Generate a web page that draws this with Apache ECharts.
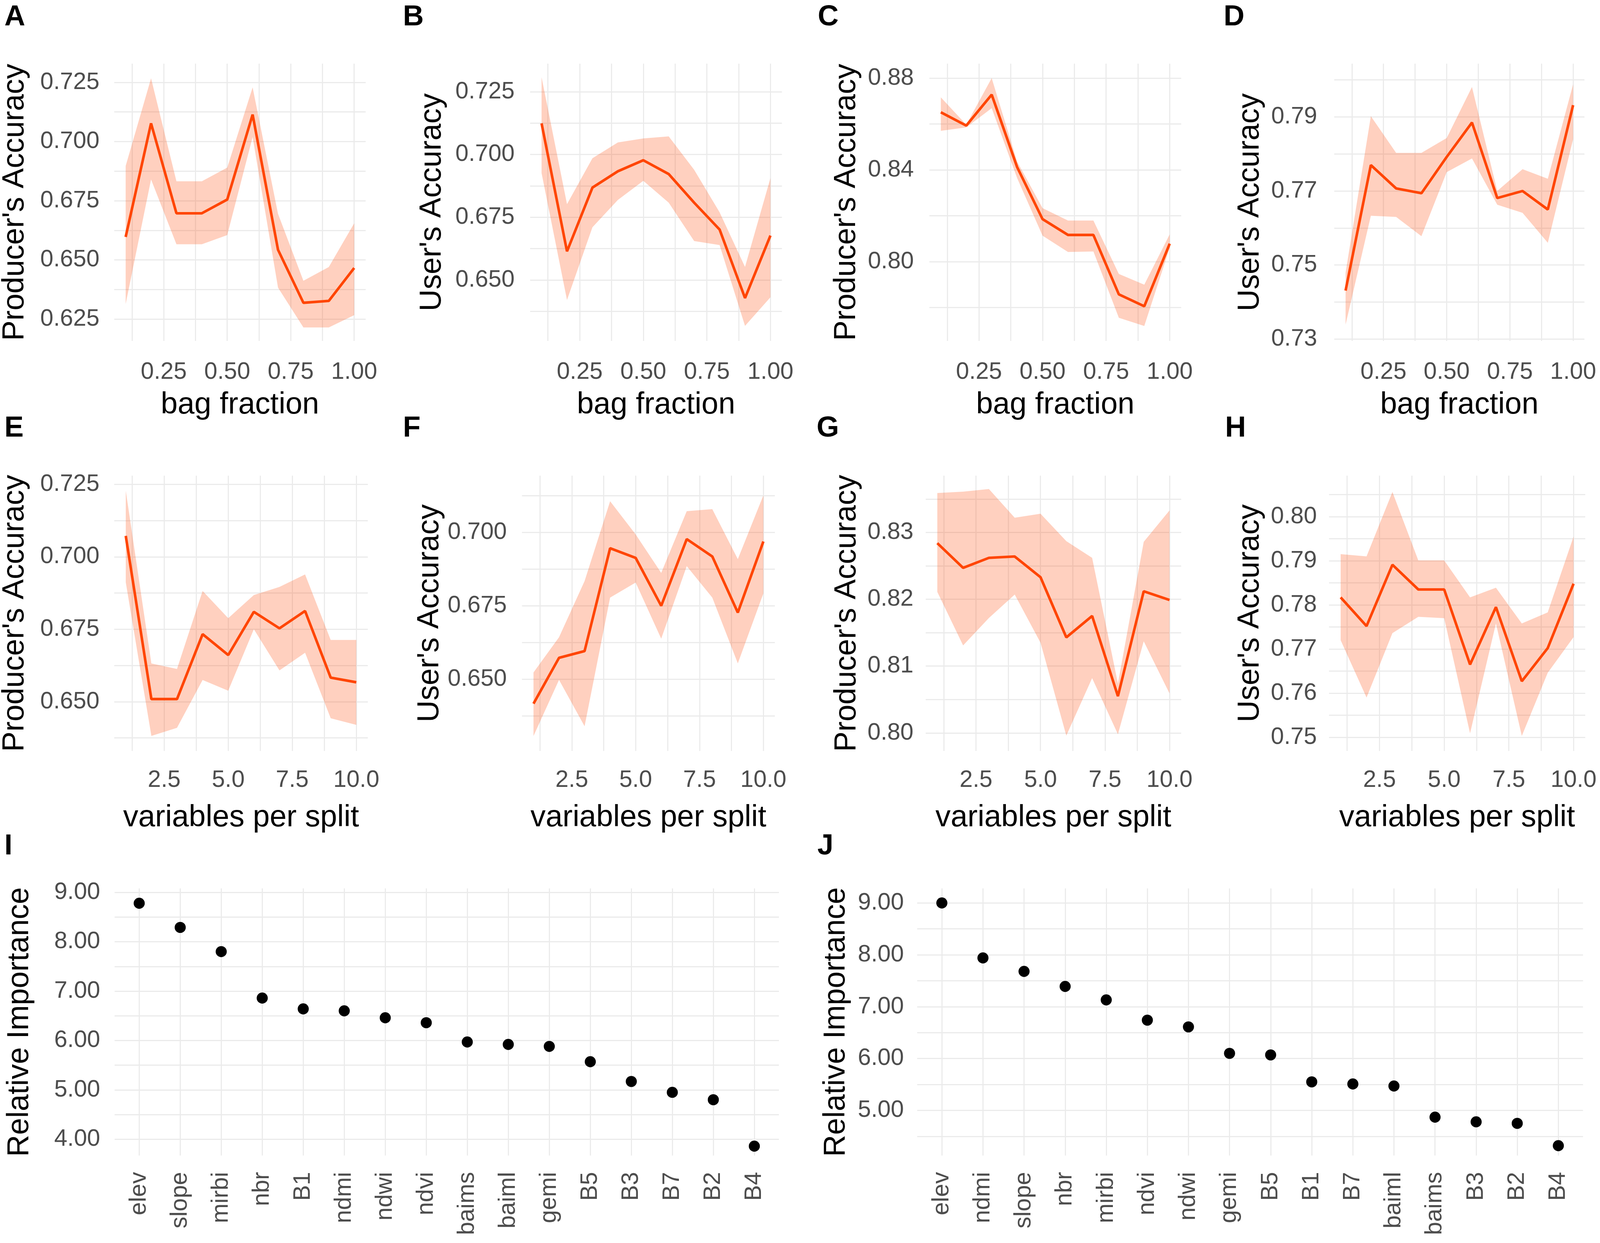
<!DOCTYPE html>
<html><head><meta charset="utf-8">
<script src="https://cdn.jsdelivr.net/npm/echarts@6/dist/echarts.min.js"></script>
<style>html,body{margin:0;padding:0;background:#fff;overflow:hidden}#c{width:100vw;height:100vh}</style>
</head><body><div id="c"></div>
<script>
// ---------------- data ----------------
const bagFraction = [0.1,0.2,0.3,0.4,0.5,0.6,0.7,0.8,0.9,1.0];
const varsPerSplit = [1,2,3,4,5,6,7,8,9,10];

const bagTicks = [0.125,0.25,0.375,0.5,0.625,0.75,0.875,1.0];
const bagLabels = [0.25,0.5,0.75,1.0];
const splitTicks = [1.25,2.5,3.75,5,6.25,7.5,8.75,10];
const splitLabels = [2.5,5,7.5,10];

const A_mean = [0.6597,0.7077,0.6697,0.6697,0.6755,0.7114,0.6543,0.6319,0.6327,0.6466];
const A_lo   = [0.6314,0.6840,0.6566,0.6566,0.6605,0.7019,0.6383,0.6215,0.6215,0.6267];
const A_hi   = [0.6897,0.7267,0.6832,0.6832,0.6890,0.7229,0.6695,0.6412,0.6470,0.6655];
const A_yTicks = [0.625,0.6375,0.65,0.6625,0.675,0.6875,0.7,0.7125,0.725];
const A_yLabels = [0.625,0.65,0.675,0.7,0.725];

const B_mean = [0.7124,0.6614,0.6868,0.6933,0.6977,0.6922,0.6808,0.6701,0.6428,0.6677];
const B_lo   = [0.6926,0.6420,0.6710,0.6819,0.6895,0.6808,0.6655,0.6639,0.6317,0.6431];
const B_hi   = [0.7308,0.6802,0.6985,0.7048,0.7064,0.7072,0.6939,0.6770,0.6552,0.6906];
const B_yTicks = [0.6375,0.65,0.6625,0.675,0.6875,0.7,0.7125,0.725];
const B_yLabels = [0.65,0.675,0.7,0.725];

const C_mean = [0.8651,0.8593,0.8728,0.8412,0.8185,0.8116,0.8116,0.7857,0.7805,0.8078];
const C_lo   = [0.8570,0.8585,0.8669,0.8364,0.8113,0.8042,0.8044,0.7755,0.7719,0.8060];
const C_hi   = [0.8716,0.8597,0.8800,0.8436,0.8233,0.8179,0.8179,0.7946,0.7899,0.8119];
const C_yTicks = [0.78,0.8,0.82,0.84,0.86,0.88];
const C_yLabels = [0.8,0.84,0.88];

const D_mean = [0.7431,0.7770,0.7707,0.7694,0.7792,0.7885,0.7681,0.7700,0.7650,0.7932];
const D_lo   = [0.7339,0.7633,0.7630,0.7578,0.7751,0.7788,0.7663,0.7641,0.7560,0.7840];
const D_hi   = [0.7479,0.7902,0.7803,0.7803,0.7843,0.7981,0.7700,0.7759,0.7733,0.7988];
const D_yTicks = [0.73,0.74,0.75,0.76,0.77,0.78,0.79,0.8];
const D_yLabels = [0.73,0.75,0.77,0.79];

const E_mean = [0.7072,0.6509,0.6509,0.6733,0.6661,0.6810,0.6753,0.6813,0.6583,0.6567];
const E_lo   = [0.6912,0.6382,0.6410,0.6575,0.6538,0.6750,0.6608,0.6669,0.6443,0.6420];
const E_hi   = [0.7228,0.6632,0.6613,0.6882,0.6788,0.6868,0.6896,0.6939,0.6713,0.6713];
const E_yTicks = [0.6375,0.65,0.6625,0.675,0.6875,0.7,0.7125,0.725];
const E_yLabels = [0.65,0.675,0.7,0.725];

const F_mean = [0.6417,0.6573,0.6596,0.6946,0.6913,0.6750,0.6977,0.6918,0.6727,0.6969];
const F_lo   = [0.6307,0.6498,0.6340,0.6778,0.6829,0.6638,0.6885,0.6778,0.6554,0.6792];
const F_hi   = [0.6523,0.6643,0.6834,0.7106,0.6993,0.6862,0.7072,0.7079,0.6909,0.7126];
const F_yTicks = [0.6375,0.65,0.6625,0.675,0.6875,0.7,0.7125];
const F_yLabels = [0.65,0.675,0.7];

const G_mean = [0.8284,0.8247,0.8262,0.8264,0.8233,0.8143,0.8175,0.8055,0.8212,0.8199];
const G_lo   = [0.8211,0.8131,0.8172,0.8207,0.8135,0.7996,0.8082,0.7998,0.8137,0.8059];
const G_hi   = [0.8359,0.8361,0.8365,0.8322,0.8328,0.8287,0.8262,0.8074,0.8286,0.8333];
const G_yTicks = [0.8,0.805,0.81,0.815,0.82,0.825,0.83,0.835];
const G_yLabels = [0.8,0.81,0.82,0.83];

const H_mean = [0.7817,0.7752,0.7891,0.7835,0.7835,0.7665,0.7795,0.7627,0.7702,0.7848];
const H_lo   = [0.7720,0.7590,0.7736,0.7773,0.7770,0.7509,0.7758,0.7503,0.7646,0.7727];
const H_hi   = [0.7915,0.7910,0.8056,0.7901,0.7901,0.7817,0.7839,0.7758,0.7783,0.7955];
const H_yTicks = [0.75,0.755,0.76,0.765,0.77,0.775,0.78,0.785,0.79,0.795,0.8,0.805];
const H_yLabels = [0.75,0.76,0.77,0.78,0.79,0.8];

const I_cats = ['elev','slope','mirbi','nbr','B1','ndmi','ndwi','ndvi','baims','baiml','gemi','B5','B3','B7','B2','B4'];
const I_vals = [8.78,8.29,7.80,6.86,6.64,6.60,6.46,6.36,5.97,5.92,5.88,5.57,5.17,4.95,4.80,3.86];
const I_yTicks = [4,4.5,5,5.5,6,6.5,7,7.5,8,8.5,9];
const I_yLabels = [4,5,6,7,8,9];

const J_cats = ['elev','ndmi','slope','nbr','mirbi','ndvi','ndwi','gemi','B5','B1','B7','baiml','baims','B3','B2','B4'];
const J_vals = [9.00,7.94,7.68,7.39,7.13,6.74,6.61,6.10,6.07,5.55,5.51,5.47,4.87,4.78,4.75,4.32];
const J_yTicks = [4.5,5,5.5,6,6.5,7,7.5,8,8.5,9];
const J_yLabels = [5,6,7,8,9];

// ---------------- layout / style ----------------
const REF_W = 4328, REF_H = 3183;
const W = window.innerWidth || REF_W, H = window.innerHeight || REF_H;
const sx = W / REF_W, sy = H / REF_H, sf = Math.min(sx, sy);
const X = v => v * sx, Y = v => v * sy, S = v => v * sf;

const FONT = '"Liberation Sans", Arial, Helvetica, sans-serif';
const GRID_COLOR = '#EBEBEB';
const TICK_COLOR = '#4D4D4D';
const LINE_COLOR = '#FF4500';
const BAND_COLOR = 'rgba(255,69,0,0.25)';
const TICK_FS = 64, TITLE_FS = 82, LETTER_FS = 78;

const bagX = {x: bagFraction, xr: [0.055, 1.045], xTicks: bagTicks, xLabels: bagLabels, xDec: 2, xName: 'bag fraction'};
const splitX = {x: varsPerSplit, xr: [0.55, 10.45], xTicks: splitTicks, xLabels: splitLabels, xDec: 1, xName: 'variables per split'};
const PA = "Producer's Accuracy", UA = "User's Accuracy";

const ribbonPanels = [
  Object.assign({letter:'A', lx:12, ly:8,  box:[309,163,989,873],   yName:PA, yr:[0.6158,0.7329], yTicks:A_yTicks, yLabels:A_yLabels, yDec:3, nameGap:227, lm:40, xlm:50, xng:126, mean:A_mean, lo:A_lo, hi:A_hi}, bagX),
  Object.assign({letter:'B', lx:1090, ly:8, box:[1434,163,2115,873], yName:UA, yr:[0.6257,0.7362], yTicks:B_yTicks, yLabels:B_yLabels, yDec:3, nameGap:223, lm:42, xlm:50, xng:126, mean:B_mean, lo:B_lo, hi:B_hi}, bagX),
  Object.assign({letter:'C', lx:2212, ly:8, box:[2514,163,3195,873], yName:PA, yr:[0.7654,0.8863], yTicks:C_yTicks, yLabels:C_yLabels, yDec:2, nameGap:182, lm:42, xlm:50, xng:126, mean:C_mean, lo:C_lo, hi:C_hi}, bagX),
  Object.assign({letter:'D', lx:3310, ly:8, box:[3609,163,4286,873], yName:UA, yr:[0.7295,0.8044], yTicks:D_yTicks, yLabels:D_yLabels, yDec:2, nameGap:186, lm:46, xlm:50, xng:126, mean:D_mean, lo:D_lo, hi:D_hi}, bagX),
  Object.assign({letter:'E', lx:12, ly:1061,  box:[309,1218,995,1923],   yName:PA, yr:[0.6330,0.7280], yTicks:E_yTicks, yLabels:E_yLabels, yDec:3, nameGap:227, lm:40, xlm:45, xng:133, mean:E_mean, lo:E_lo, hi:E_hi}, splitX),
  Object.assign({letter:'F', lx:1090, ly:1061, box:[1412,1218,2096,1923], yName:UA, yr:[0.6256,0.7193], yTicks:F_yTicks, yLabels:F_yLabels, yDec:3, nameGap:208, lm:41, xlm:45, xng:133, mean:F_mean, lo:F_lo, hi:F_hi}, splitX),
  Object.assign({letter:'G', lx:2209, ly:1061, box:[2504,1218,3195,1923], yName:PA, yr:[0.7973,0.8385], yTicks:G_yTicks, yLabels:G_yLabels, yDec:2, nameGap:171, lm:33, xlm:45, xng:133, mean:G_mean, lo:G_lo, hi:G_hi}, splitX),
  Object.assign({letter:'H', lx:3314, ly:1061, box:[3595,1218,4288,1923], yName:UA, yr:[0.7469,0.8093], yTicks:H_yTicks, yLabels:H_yLabels, yDec:2, nameGap:172, lm:33, xlm:45, xng:133, mean:H_mean, lo:H_lo, hi:H_hi}, splitX)
];

const dotPanels = [
  {letter:'I', lx:12, ly:2131, box:[310,2275,2107,2959], cats:I_cats, vals:I_vals, yr:[3.67,9.08], yTicks:I_yTicks, yLabels:I_yLabels, nameGap:215, lm:39},
  {letter:'J', lx:2211, ly:2131, box:[2481,2275,4282,2959], cats:J_cats, vals:J_vals, yr:[4.13,9.28], yTicks:J_yTicks, yLabels:J_yLabels, nameGap:178, lm:36}
];

const option = {animation:false, backgroundColor:'#ffffff', title:[], grid:[], xAxis:[], yAxis:[], series:[]};

function splitLine(){ return {show:true, lineStyle:{color:GRID_COLOR, width:S(3), type:'solid'}}; }
function addCommon(p){
  option.title.push({text:p.letter, left:X(p.lx), top:Y(p.ly), padding:0,
    textStyle:{fontFamily:FONT, fontSize:S(LETTER_FS), fontWeight:'bold', color:'#000'}});
  option.grid.push({left:X(p.box[0]), top:Y(p.box[1]), width:X(p.box[2]-p.box[0]), height:Y(p.box[3]-p.box[1]),
    containLabel:false, outerBoundsMode:'none', show:false});
}

let gi = 0;
ribbonPanels.forEach(p => {
  const i = gi++;
  addCommon(p);
  option.xAxis.push({type:'value', gridIndex:i, min:p.xr[0], max:p.xr[1],
    axisLine:{show:false}, axisTick:{show:false, customValues:p.xTicks}, splitLine:splitLine(),
    axisLabel:{customValues:p.xLabels, formatter:v => Number(v).toFixed(p.xDec), fontSize:S(TICK_FS), color:TICK_COLOR, fontFamily:FONT, margin:Y(p.xlm)},
    name:p.xName, nameLocation:'middle', nameGap:Y(p.xng), nameTextStyle:{fontSize:S(TITLE_FS), color:'#000', fontFamily:FONT}});
  option.yAxis.push({type:'value', gridIndex:i, min:p.yr[0], max:p.yr[1],
    axisLine:{show:false}, axisTick:{show:false, customValues:p.yTicks}, splitLine:splitLine(),
    axisLabel:{customValues:p.yLabels, formatter:v => Number(v).toFixed(p.yDec), fontSize:S(TICK_FS), color:TICK_COLOR, fontFamily:FONT, margin:X(p.lm)},
    name:p.yName, nameLocation:'middle', nameRotate:90, nameGap:X(p.nameGap), nameTextStyle:{fontSize:S(TITLE_FS), color:'#000', fontFamily:FONT}});
  // ribbon (confidence band) as a polygon through the axes' own scales
  const band = p.x.map((x,k) => [x, p.lo[k], p.hi[k]]);
  option.series.push({type:'custom', xAxisIndex:i, yAxisIndex:i, silent:true, z:2,
    encode:{x:0, y:[1,2]}, data:band,
    renderItem:(params, api) => {
      if (params.dataIndex !== 0) return null;
      const pts = [];
      for (let k = 0; k < band.length; k++) pts.push(api.coord([band[k][0], band[k][2]]));
      for (let k = band.length - 1; k >= 0; k--) pts.push(api.coord([band[k][0], band[k][1]]));
      return {type:'polygon', shape:{points:pts}, style:{fill:BAND_COLOR, stroke:null}};
    }});
  option.series.push({type:'line', xAxisIndex:i, yAxisIndex:i, symbol:'none', silent:true, z:3,
    lineStyle:{color:LINE_COLOR, width:S(7)}, data:p.x.map((x,k) => [x, p.mean[k]])});
});

dotPanels.forEach(p => {
  const i = gi++;
  addCommon(p);
  const idx = p.cats.map((c,k) => k);
  option.xAxis.push({type:'value', gridIndex:i, min:-0.6, max:p.cats.length - 0.4,
    axisLine:{show:false}, axisTick:{show:false, customValues:idx}, splitLine:splitLine(),
    axisLabel:{customValues:idx, formatter:v => p.cats[Math.round(v)] || '', rotate:90, fontSize:S(TICK_FS), color:TICK_COLOR, fontFamily:FONT, margin:Y(42)}});
  option.yAxis.push({type:'value', gridIndex:i, min:p.yr[0], max:p.yr[1],
    axisLine:{show:false}, axisTick:{show:false, customValues:p.yTicks}, splitLine:splitLine(),
    axisLabel:{customValues:p.yLabels, formatter:v => Number(v).toFixed(2), fontSize:S(TICK_FS), color:TICK_COLOR, fontFamily:FONT, margin:X(p.lm)},
    name:'Relative Importance', nameLocation:'middle', nameRotate:90, nameGap:X(p.nameGap), nameTextStyle:{fontSize:S(TITLE_FS), color:'#000', fontFamily:FONT}});
  option.series.push({type:'scatter', xAxisIndex:i, yAxisIndex:i, symbol:'circle', symbolSize:S(30), silent:true,
    itemStyle:{color:'#000', opacity:1}, data:p.cats.map((c,k) => [k, p.vals[k]])});
});

const chart = echarts.init(document.getElementById('c'), null, {renderer:'canvas'});
chart.setOption(option);
</script>
</body></html>
